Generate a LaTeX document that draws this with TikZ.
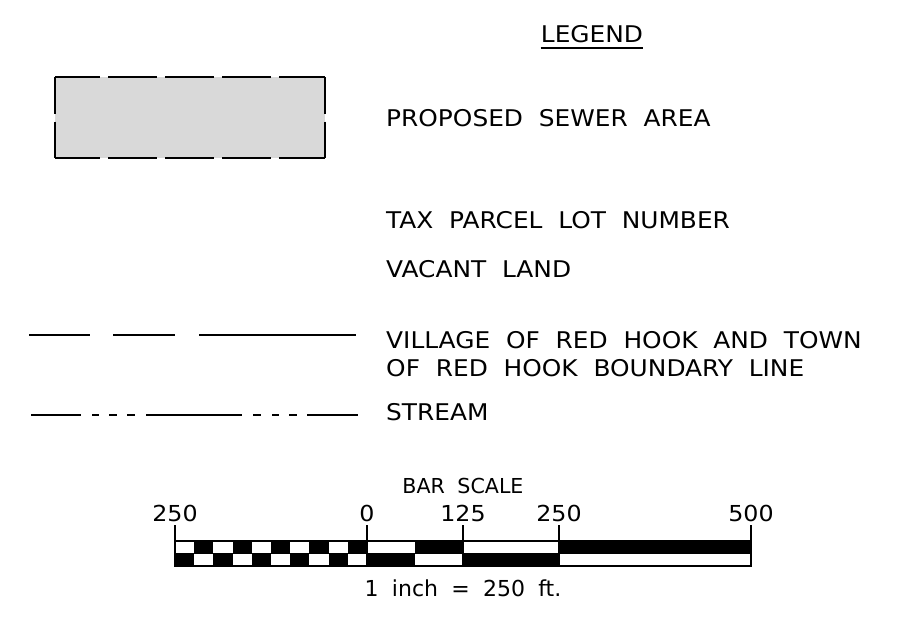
\documentclass[tikz,border=0pt]{standalone}
\usepackage{fontspec}
\setmainfont[WordSpace=2.0,FakeStretch=1.08]{DejaVu Sans}
\newfontfamily\escalafont[WordSpace=1.9]{DejaVu Sans}
\usepackage{tikz}
\usetikzlibrary{calc}

\tikzset{
  rotulo/.style={anchor=base west, inner sep=0pt, font=\fontsize{23}{28}\selectfont},
  numero/.style={anchor=base, inner sep=0pt, font=\fontsize{22}{26}\selectfont},
  linha/.style={line width=2.4pt},
}

\begin{document}
\begin{tikzpicture}[x=1pt, y=-1pt]
    \useasboundingbox (0,0) rectangle (915,621);
    % Titulo
    \node[numero, font=\fontsize{23}{28}\selectfont] (titulo) at (592,42) {LEGEND};
    \draw[line width=1.6pt] ($(titulo.base west)+(0,6)$) -- ($(titulo.base east)+(0,6)$);
    % Area
    \fill[black!15] (55,77) rectangle (325,158);
    \draw[line width=2pt, dash pattern=on 49pt off 8pt, dash phase=4pt] (55,77) -- (325,77);
    \draw[line width=2pt, dash pattern=on 49pt off 8pt, dash phase=4pt] (55,158) -- (325,158);
    \draw[line width=2pt, dash pattern=on 49pt off 8pt, dash phase=12.5pt] (55,77) -- (55,158);
    \draw[line width=2pt, dash pattern=on 49pt off 8pt, dash phase=12.5pt] (325,77) -- (325,158);
    \node[rotulo] (area) at (386,126) {PROPOSED SEWER AREA};
    % Lotes
    \node[rotulo] (lote) at (386,228) {TAX PARCEL LOT NUMBER};
    \node[rotulo] (vago) at (386,277) {VACANT LAND};
    % Limite
    \foreach \a/\b in {29/90, 113/175, 199/356} {
        \draw[linha] (\a,335) -- (\b,335);
    }
    \node[rotulo] (limite) at (386,348) {VILLAGE OF RED HOOK AND TOWN};
    \node[rotulo] (limiteb) at (386,376) {OF RED HOOK BOUNDARY LINE};
    % Corrego
    \foreach \a/\b in {31/81, 92/99, 109/117, 127/135, 146/242, 253/261, 272/279, 289/297, 307/358} {
        \draw[linha] (\a,415) -- (\b,415);
    }
    \node[rotulo] (corrego) at (386,420) {STREAM};
    % Escala
    \node[numero, font=\escalafont\fontsize{20.6}{25}\selectfont] (barra) at (463,493) {BAR SCALE};
    \foreach \i in {0,...,9} {
        \pgfmathsetmacro{\xa}{175+19.2*\i}
        \pgfmathsetmacro{\xb}{175+19.2*(\i+1)}
        \ifodd\i
            \fill (\xa,541) rectangle (\xb,553.5);
        \else
            \fill (\xa,553.5) rectangle (\xb,566);
        \fi
    }
    \fill (367,553.5) rectangle (415,566);
    \fill (415,541) rectangle (463,553.5);
    \fill (463,553.5) rectangle (559,566);
    \fill (559,541) rectangle (751,553.5);
    \draw[line width=1.4pt] (175,541) rectangle (751,566);
    \draw[line width=1pt] (175,553.5) -- (751,553.5);
    \foreach \x/\v/\nome in {175/250/ma, 367/0/mb, 463/125/mc, 559/250/md, 751/500/me} {
        \draw[line width=1.4pt] (\x,525) -- (\x,566);
        \node[numero] (\nome) at (\x,521) {\v};
    }
    \node[numero, font=\escalafont\fontsize{22}{26}\selectfont] (razao) at (463,596) {1 inch = 250 ft.};
\end{tikzpicture}
\end{document}
